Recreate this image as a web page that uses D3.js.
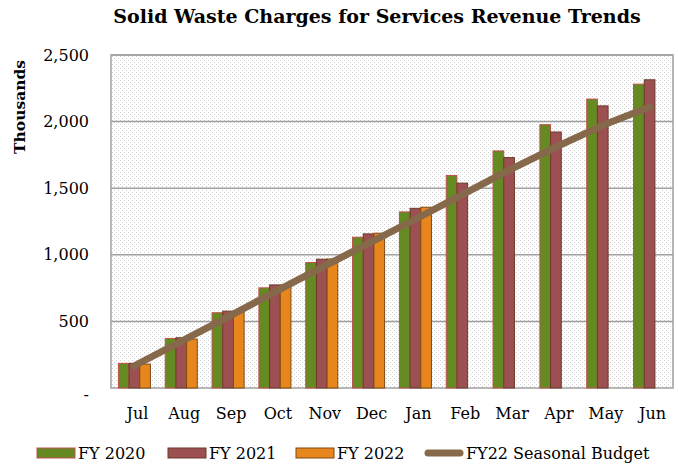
<!DOCTYPE html>
<html>
<head>
<meta charset="utf-8">
<script src="https://cdn.jsdelivr.net/npm/d3@7"></script>
<style>
  body { margin: 0; background: #fff; }
  text { font-family: "DejaVu Serif", "Liberation Serif", serif; fill: #000; }
</style>
</head>
<body>
<svg width="678" height="467"></svg>
<script>
var months = ["Jul", "Aug", "Sep", "Oct", "Nov", "Dec", "Jan", "Feb", "Mar", "Apr", "May", "Jun"];
var fy2020 = [185, 372, 565, 752, 942, 1132, 1322, 1595, 1780, 1977, 2169, 2281];
var fy2021 = [185, 377, 577, 774, 967, 1157, 1349, 1538, 1730, 1922, 2118, 2314];
var fy2022 = [180, 367, 582, 774, 969, 1162, 1357];
var budget = [167, 350, 534, 722, 905, 1085, 1267, 1452, 1635, 1809, 1972, 2109];
var seriesNames = ["FY 2020", "FY 2021", "FY 2022"];
var yTicks = [0, 500, 1000, 1500, 2000, 2500];

var fills = ["#658a22", "#9c5052", "#e8861e"];
var strokes = ["#c0504d", "#6b3a2a", "#7f4a10"];
var lineColour = "#86694a";

var svg = d3.select("svg");
var plotLeft = 111, plotRight = 673, plotTop = 55, plotBottom = 388;

var x = d3.scaleBand().domain(months).range([plotLeft, plotRight]).paddingInner(0.316).paddingOuter(0.158);
var x1 = d3.scaleBand().domain(seriesNames).range([0, x.bandwidth()]);
var y = d3.scaleLinear().domain([0, 2500]).range([plotBottom, plotTop]);

// dotted background pattern
var defs = svg.append("defs");
var pat = defs.append("pattern")
    .attr("id", "dots")
    .attr("width", 4).attr("height", 4)
    .attr("patternUnits", "userSpaceOnUse");
pat.append("rect").attr("width", 4).attr("height", 4).attr("fill", "#fff");
pat.append("rect").attr("x", 0).attr("y", 0).attr("width", 1).attr("height", 1).attr("fill", "#d2d2d2");
pat.append("rect").attr("x", 2).attr("y", 2).attr("width", 1).attr("height", 1).attr("fill", "#d2d2d2");

svg.append("rect")
    .attr("x", plotLeft).attr("y", plotTop)
    .attr("width", plotRight - plotLeft).attr("height", plotBottom - plotTop)
    .attr("fill", "url(#dots)");

// gridlines
svg.append("g")
    .selectAll("line")
    .data(yTicks.slice(1))
    .enter().append("line")
    .attr("x1", plotLeft).attr("x2", plotRight)
    .attr("y1", d => y(d)).attr("y2", d => y(d))
    .attr("stroke", "#a0a0a0")
    .attr("stroke-width", 1.5);

// plot border
svg.append("rect")
    .attr("x", plotLeft).attr("y", plotTop)
    .attr("width", plotRight - plotLeft).attr("height", plotBottom - plotTop)
    .attr("fill", "none")
    .attr("stroke", "#a0a0a0")
    .attr("stroke-width", 1.5);

// bars
var seriesData = [fy2020, fy2021, fy2022];
seriesData.forEach(function (vals, si) {
    svg.append("g")
        .selectAll("rect")
        .data(vals)
        .enter().append("rect")
        .attr("x", (d, i) => x(months[i]) + x1(seriesNames[si]))
        .attr("y", d => y(d))
        .attr("width", x1.bandwidth())
        .attr("height", d => y(0) - y(d))
        .attr("fill", fills[si])
        .attr("stroke", strokes[si])
        .attr("stroke-width", 1);
});

// budget line
var line = d3.line()
    .x((d, i) => x(months[i]) + x.bandwidth() / 2)
    .y(d => y(d));

svg.append("path")
    .datum(budget)
    .attr("d", line)
    .attr("fill", "none")
    .attr("stroke", lineColour)
    .attr("stroke-width", 7)
    .attr("stroke-linecap", "round")
    .attr("stroke-linejoin", "round");

// y axis labels
svg.append("g")
    .selectAll("text")
    .data(yTicks)
    .enter().append("text")
    .attr("x", 89)
    .attr("y", d => d === 0 ? y(d) + 6 : y(d))
    .attr("dy", "0.35em")
    .attr("text-anchor", "end")
    .style("font-size", "16px")
    .text(d => d === 0 ? "-" : d3.format(",")(d));

// x axis labels
svg.append("g")
    .selectAll("text")
    .data(months)
    .enter().append("text")
    .attr("x", d => x(d) + x.bandwidth() / 2 + 3)
    .attr("y", 413)
    .attr("dy", "0.35em")
    .attr("text-anchor", "middle")
    .style("font-size", "16px")
    .text(d => d);

// title
svg.append("text")
    .attr("x", 377)
    .attr("y", 23)
    .attr("text-anchor", "middle")
    .style("font-size", "19px")
    .style("font-weight", "bold")
    .text("Solid Waste Charges for Services Revenue Trends");

// y axis title
svg.append("text")
    .attr("transform", "translate(25,107) rotate(-90)")
    .attr("text-anchor", "middle")
    .style("font-size", "15.5px")
    .style("font-weight", "bold")
    .text("Thousands");

// legend
var legendItems = [
    { name: "FY 2020", x: 37, kind: 0 },
    { name: "FY 2021", x: 168, kind: 1 },
    { name: "FY 2022", x: 296, kind: 2 },
    { name: "FY22 Seasonal Budget", x: 425, kind: 3 }
];
var legend = svg.append("g");
legendItems.forEach(function (d) {
    if (d.kind < 3) {
        legend.append("rect")
            .attr("x", d.x).attr("y", 448)
            .attr("width", 38).attr("height", 10)
            .attr("fill", fills[d.kind])
            .attr("stroke", strokes[d.kind])
            .attr("stroke-width", 1);
    } else {
        legend.append("line")
            .attr("x1", d.x + 3).attr("x2", d.x + 35)
            .attr("y1", 453).attr("y2", 453)
            .attr("stroke", lineColour)
            .attr("stroke-width", 7)
            .attr("stroke-linecap", "round");
    }
    legend.append("text")
        .attr("x", d.x + 41)
        .attr("y", 453)
        .attr("dy", "0.35em")
        .style("font-size", "16px")
        .text(d.name);
});
</script>
</body>
</html>
